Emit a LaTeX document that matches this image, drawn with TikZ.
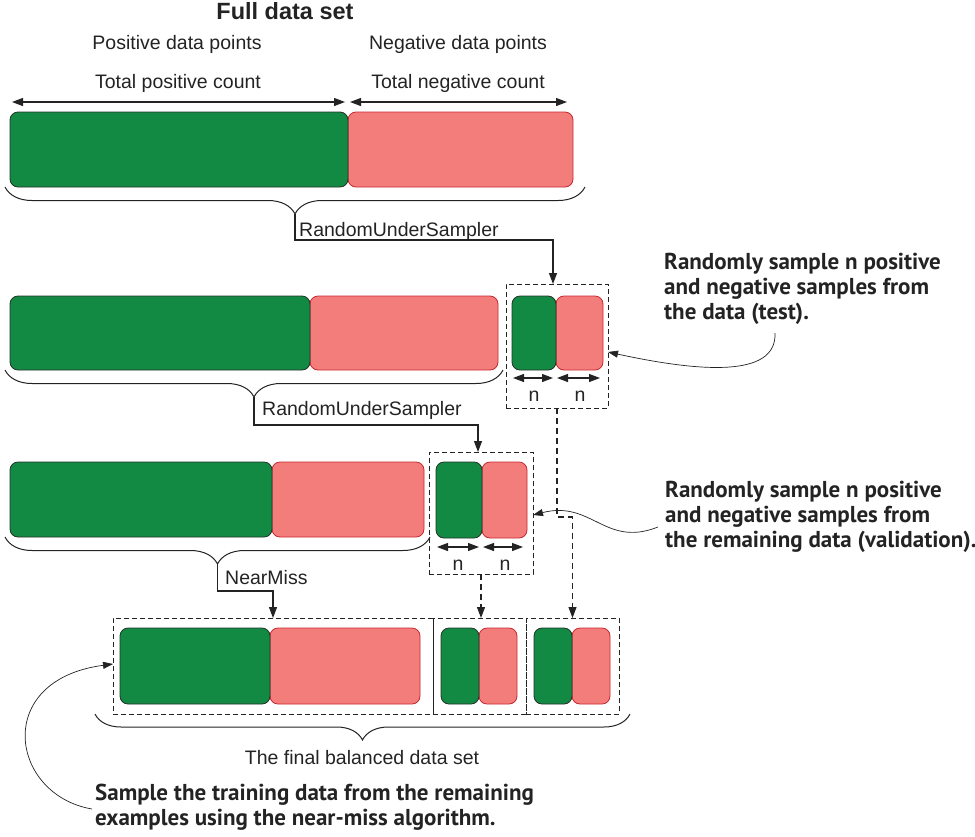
\documentclass[tikz,border=0pt]{standalone}
\usepackage{fontspec}
\setmainfont{Liberation Sans}
\newfontfamily\annfont{PT Sans}
\usetikzlibrary{arrows.meta,decorations.pathreplacing}
\definecolor{posgreen}{RGB}{18,138,68}
\definecolor{posborder}{RGB}{35,50,40}
\definecolor{negred}{RGB}{243,125,123}
\definecolor{negborder}{RGB}{200,40,48}
\definecolor{ink}{RGB}{35,35,35}
\begin{document}
\begin{tikzpicture}[x=1pt,y=-1pt,
  blk/.style={anchor=north west, inner sep=0pt, outer sep=0pt, rounded corners=8pt, line width=0.8pt},
  posbox/.style={blk, draw=posborder, fill=posgreen},
  negbox/.style={blk, draw=negborder, fill=negred},
  dbox/.style={draw=ink, anchor=north west, inner sep=0pt, outer sep=0pt, line width=1pt, dash pattern=on 5pt off 3pt},
  lbl/.style={font=\fontsize{19.5}{22}\selectfont, inner sep=0pt, text=ink},
  ttl/.style={font=\bfseries\fontsize{23.5}{26}\selectfont, inner sep=0pt, text=ink},
  ann/.style={font=\annfont\bfseries\fontsize{23}{25}\selectfont, align=left, anchor=north west, inner sep=0pt, text=ink},
  arr/.style={draw=ink, line width=1.2pt, -{Triangle[length=11pt,width=8pt]}},
  darr/.style={arr, dash pattern=on 6pt off 4pt},
  dimarr/.style={draw=ink, line width=1.2pt, {Triangle[length=11pt,width=8pt]}-{Triangle[length=11pt,width=8pt]}},
  brc/.style={draw=ink, line width=1pt, decorate, decoration={brace, mirror, amplitude=#1}},
  callout/.style={draw=ink, line width=0.7pt, -{Triangle[length=10pt,width=7pt]}}
]
\useasboundingbox (0,0) rectangle (975,836);

% ---------- Row 1: full data set ----------
\node[ttl] (title) at (285,11) {Full data set};
\node[lbl] (posdp) at (177,44) {Positive data points};
\node[lbl] (negdp) at (458,44) {Negative data points};
\node[lbl] (posc) at (178,83) {Total positive count};
\node[lbl] (negc) at (458,83) {Total negative count};

\node[negbox, minimum width=225pt, minimum height=75pt] (r1) at (348,112) {};
\node[posbox, minimum width=338pt, minimum height=75pt] (g1) at (10,112) {};
\draw[dimarr] ([xshift=2pt,yshift=10pt]g1.north west) -- ([xshift=-3pt,yshift=10pt]g1.north east);
\draw[dimarr] ([xshift=2pt,yshift=10pt]r1.north west) -- ([xshift=-6pt,yshift=10pt]r1.north east);

\draw[brc=27pt] (5,187) -- (585,187);
\coordinate (b1) at (295,214);

% ---------- Row 2 ----------
\node[negbox, minimum width=188pt, minimum height=74pt] (r2) at (310,296) {};
\node[posbox, minimum width=300pt, minimum height=74pt] (g2) at (10,296) {};
\draw[brc=27pt] (5,370) -- (503,370);
\coordinate (b2) at (254,397);

% test box
\node[dbox, minimum width=102pt, minimum height=124pt] (tbox) at (506,284) {};
\node[negbox, minimum width=47pt, minimum height=74pt] (tr) at (556,296) {};
\node[posbox, minimum width=44pt, minimum height=74pt] (tg) at (512,296) {};
\draw[dimarr] ([xshift=1pt,yshift=-8pt]tg.south west) -- ([xshift=-3pt,yshift=-8pt]tg.south east);
\draw[dimarr] ([xshift=1pt,yshift=-8pt]tr.south west) -- ([xshift=-3pt,yshift=-8pt]tr.south east);
\node[lbl] (tn1) at (534,396) {n};
\node[lbl] (tn2) at (580,396) {n};

\draw[arr] (b1) -- ++(0,26) -| ([xshift=-4pt]tbox.north);
\node[lbl, anchor=west] (rus1) at (299,231) {RandomUnderSampler};

\node[ann] (ann1) at (664,253) {Randomly sample n positive\\and negative samples from\\the data (test).};
\coordinate (c1) at (775,333);
\draw[callout] (c1) .. controls (777,378) and (700,372) .. ([yshift=-6pt]tbox.east);

% ---------- Row 3 ----------
\node[negbox, minimum width=152pt, minimum height=75pt] (r3) at (272,462) {};
\node[posbox, minimum width=262pt, minimum height=75pt] (g3) at (10,462) {};
\draw[brc=27pt] (5,537) -- (430,537);
\coordinate (b3) at (217.5,564);

% validation box
\node[dbox, minimum width=104pt, minimum height=122pt] (vbox) at (429,452) {};
\node[negbox, minimum width=45pt, minimum height=76pt] (vr) at (482,462) {};
\node[posbox, minimum width=46pt, minimum height=76pt] (vg) at (436,462) {};
\draw[dimarr] ([xshift=1pt,yshift=-9pt]vg.south west) -- ([xshift=-3pt,yshift=-9pt]vg.south east);
\draw[dimarr] ([xshift=1pt,yshift=-9pt]vr.south west) -- ([xshift=-4pt,yshift=-9pt]vr.south east);
\node[lbl] (vn1) at (458,565) {n};
\node[lbl] (vn2) at (505,565) {n};

\draw[arr] (b2) -- ++(0,28) -| ([xshift=-3pt]vbox.north);
\node[lbl, anchor=west] (rus2) at (262,410) {RandomUnderSampler};

\node[ann] (ann2) at (665,481) {Randomly sample n positive\\and negative samples from\\the remaining data (validation).};
\coordinate (c2) at (658,527);
\draw[callout] (c2) .. controls (605,548) and (592,500) .. ([yshift=-2pt]vbox.east);

% ---------- Bottom: final balanced set ----------
\node[dbox, minimum width=320pt, minimum height=96pt] (fb1) at (113,618) {};
\node[dbox, minimum width=93pt, minimum height=96pt] (fb2) at (433,618) {};
\node[dbox, minimum width=93pt, minimum height=96pt] (fb3) at (526,618) {};
\node[negbox, minimum width=150pt, minimum height=76pt] (br) at (270,628) {};
\node[posbox, minimum width=150pt, minimum height=76pt] (bg) at (120,628) {};
\node[negbox, minimum width=38pt, minimum height=76pt] (s2r) at (479,628) {};
\node[posbox, minimum width=38pt, minimum height=76pt] (s2g) at (441,628) {};
\node[negbox, minimum width=38pt, minimum height=76pt] (s3r) at (572,628) {};
\node[posbox, minimum width=38pt, minimum height=76pt] (s3g) at (534,628) {};

\draw[arr] (b3) -- ++(0,27) -| (fb1.north);
\node[lbl, anchor=west] (nm) at (225,578) {NearMiss};

\draw[darr] (vbox.south) -- (vbox.south |- fb2.north);
\draw[darr] (tbox.south) -- ++(0,109) -| (fb3.north);

\draw[brc=26pt] (95,714) -- (630,714);
\node[lbl] (final) at (362,758) {The final balanced data set};

\node[ann] (ann3) at (95,784) {Sample the training data from the remaining\\examples using the near-miss algorithm.};
\coordinate (c3) at (92,809);
\draw[callout] (c3) .. controls (10,795) and (-8,680) .. ([yshift=2pt]fb1.west);
\end{tikzpicture}
\end{document}
